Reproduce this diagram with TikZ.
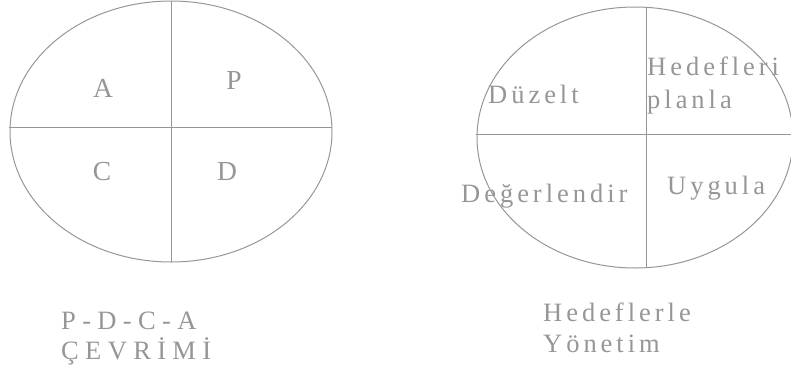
\documentclass[tikz,border=0pt]{standalone}
\usepackage{fontspec}
\setmainfont{Liberation Serif}
\newfontfamily\spaced[LetterSpace=15]{Liberation Serif}
\newfontfamily\wspaced[LetterSpace=24]{Liberation Serif}
\definecolor{lgray}{HTML}{969696}
\begin{document}
\begin{tikzpicture}[x=1pt,y=-1pt,
  rim/.style={draw=lgray,line width=1pt},
  lbl/.style={font=\fontsize{26.5}{28}\spaced,text=lgray,inner sep=0pt,anchor=base west},
  wlbl/.style={lbl,font=\fontsize{26.5}{28}\wspaced},
  ltr/.style={font=\fontsize{27.5}{28}\selectfont,text=lgray,inner sep=0pt,anchor=base}]
\useasboundingbox (0,0) rectangle (791,375);
\draw[rim] (171,131.5) ellipse [x radius=161,y radius=130.5];
\draw[rim] (171.5,1) -- (171.5,262);
\draw[rim] (9,127) -- (332,127);
\node[ltr] (pA) at (103,97) {A};
\node[ltr] (pP) at (234,89) {P};
\node[ltr] (pC) at (102,180) {C};
\node[ltr] (pD) at (227,180) {D};
\draw[rim] (635,137.5) ellipse [x radius=158,y radius=130.5];
\draw[rim] (646.7,7) -- (646.7,268);
\draw[rim] (476,134) -- (791,134);
\node[lbl] (duz) at (488,103) {Düzelt};
\node[lbl] (hed) at (647,75) {Hedefleri};
\node[lbl] (pla) at (647,108) {planla};
\node[lbl] (deg) at (461,202) {Değerlendir};
\node[lbl] (uyg) at (667,194) {Uygula};
\node[wlbl] (pdca) at (61,329) {P-D-C-A};
\node[wlbl] (cev) at (61,359) {ÇEVRİMİ};
\node[lbl] (hle) at (543,321) {Hedeflerle};
\node[lbl] (yon) at (543,352) {Yönetim};
\end{tikzpicture}
\end{document}
